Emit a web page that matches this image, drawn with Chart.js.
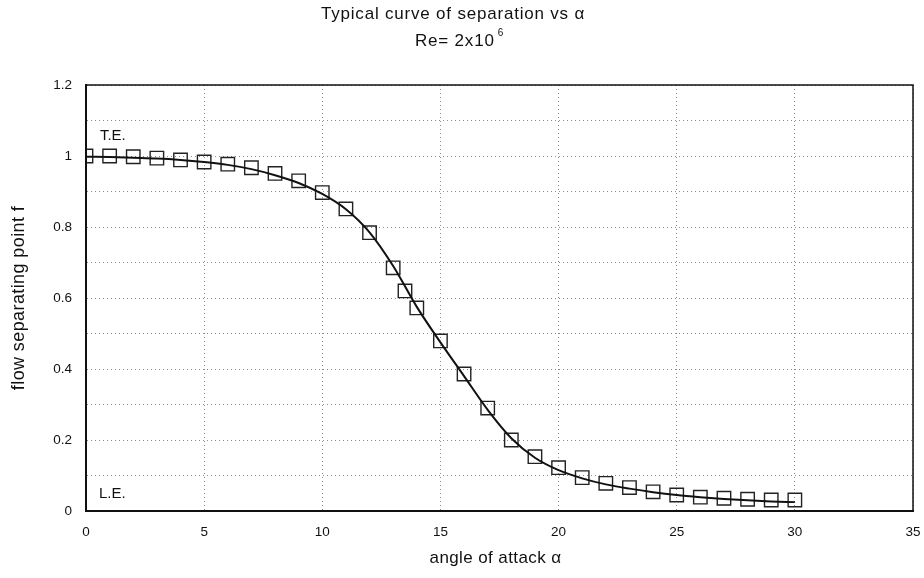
<!DOCTYPE html>
<html lang="en">
<head>
  <meta charset="UTF-8" />
  <title>Typical curve of separation vs α</title>
  <script src="https://cdn.jsdelivr.net/npm/chart.js"></script>
  <style>
    html, body { margin: 0; padding: 0; background: #fff; }
    #wrap { width: 924px; height: 578px; position: relative; }
  </style>
</head>
<body>
  <div id="wrap"><canvas id="sepChart"></canvas></div>

  <script>
    // measured points (squares)
    const alphaPoints = [0, 1, 2, 3, 4, 5, 6, 7, 8, 9, 10, 11, 12, 13, 13.5, 14, 15, 16, 17, 18, 19, 20, 21, 22, 23, 24, 25, 26, 27, 28, 29, 30];
    const fPoints = [1.0, 1.0, 0.998, 0.994, 0.989, 0.983, 0.977, 0.967, 0.951, 0.93, 0.897, 0.851, 0.784, 0.685, 0.62, 0.572, 0.479, 0.386, 0.29, 0.2, 0.153, 0.122, 0.094, 0.078, 0.066, 0.054, 0.045, 0.039, 0.036, 0.033, 0.031, 0.031];

    // fitted curve
    const alphaCurve = [0, 1, 2, 3, 4, 5, 6, 7, 8, 9, 10, 11, 12, 13, 14, 15, 16, 17, 18, 19, 20, 21, 22, 23, 24, 25, 26, 27, 28, 29, 30];
    const fCurve = [0.998, 0.997, 0.995, 0.993, 0.989, 0.983, 0.975, 0.963, 0.946, 0.924, 0.893, 0.85, 0.785, 0.69, 0.575, 0.475, 0.38, 0.285, 0.205, 0.15, 0.115, 0.092, 0.075, 0.063, 0.053, 0.045, 0.039, 0.034, 0.03, 0.027, 0.025];

    const xTicks = [0, 5, 10, 15, 20, 25, 30, 35];
    const yTicks = [0, 0.2, 0.4, 0.6, 0.8, 1, 1.2];

    const titleLine = "Typical curve of separation vs α";
    const reBase = "Re= 2x10";
    const reExp = "6";
    const xTitle = "angle of attack α";
    const yTitle = "flow separating point f";

    const FONT = "'Liberation Sans', Arial, sans-serif";

    // titles drawn by hand: superscript exponent and a bit of letter spacing like the scan
    const textPlugin = {
      id: "texts",
      afterDraw(chart) {
        const c = chart.ctx;
        const a = chart.chartArea;
        c.save();
        c.fillStyle = "#111";
        c.textBaseline = "middle";
        c.textAlign = "center";
        c.letterSpacing = "0.8px";
        c.font = "17px " + FONT;
        c.fillText(titleLine, 453, 14);

        c.textAlign = "left";
        const w = c.measureText(reBase).width;
        c.fillText(reBase, 415, 41);
        c.letterSpacing = "0px";
        c.font = "10px " + FONT;
        c.fillText(reExp, 415 + w + 3, 33);

        c.textAlign = "center";
        c.letterSpacing = "0.4px";
        c.font = "17px " + FONT;
        c.fillText(xTitle, (a.left + a.right) / 2 - 4, 558);

        c.translate(19, 298);
        c.rotate(-Math.PI / 2);
        c.font = "18px " + FONT;
        c.fillText(yTitle, 0, 0);
        c.restore();
      }
    };

    // frame round the plot area plus T.E. / L.E. notes
    const framePlugin = {
      id: "frame",
      afterDatasetsDraw(chart) {
        const { ctx, chartArea: a, scales } = chart;
        ctx.save();
        ctx.strokeStyle = "#111";
        ctx.lineWidth = 1.5;
        ctx.strokeRect(a.left, a.top, a.right - a.left, a.bottom - a.top);
        ctx.fillStyle = "#111";
        ctx.font = "15px " + FONT;
        ctx.textBaseline = "middle";
        ctx.fillText("T.E.", scales.x.getPixelForValue(0.59), scales.y.getPixelForValue(1.056));
        ctx.fillText("L.E.", scales.x.getPixelForValue(0.55), scales.y.getPixelForValue(0.048));
        ctx.restore();
      }
    };

    const gridDots = {
      color: "#8c8c8c",
      lineWidth: 1,
      drawTicks: false
    };

    new Chart(document.getElementById("sepChart"), {
      type: "scatter",
      data: {
        datasets: [
          {
            label: "curve",
            data: alphaCurve.map((a, i) => ({ x: a, y: fCurve[i] })),
            showLine: true,
            borderColor: "#111",
            borderWidth: 2,
            pointRadius: 0,
            cubicInterpolationMode: "monotone",
            fill: false
          },
          {
            label: "f",
            data: alphaPoints.map((a, i) => ({ x: a, y: fPoints[i] })),
            showLine: false,
            pointStyle: "rect",
            pointRadius: 9.5,
            pointBorderWidth: 1.4,
            pointBorderColor: "#222",
            pointBackgroundColor: "rgba(0,0,0,0)"
          }
        ]
      },
      options: {
        responsive: true,
        maintainAspectRatio: false,
        animation: false,
        layout: { autoPadding: false, padding: { top: 85, right: 11, left: 0, bottom: 0 } },
        plugins: {
          legend: { display: false },
          tooltip: { enabled: false }
        },
        scales: {
          x: {
            type: "linear",
            min: 0,
            max: 35,
            afterBuildTicks: (s) => { s.ticks = xTicks.map(v => ({ value: v })); },
            afterFit: (s) => { s.height = 67; s.paddingLeft = 0; s.paddingRight = 0; },
            ticks: { padding: 13, color: "#111", font: { family: FONT, size: 13.5 } },
            grid: gridDots,
            border: { display: true, color: "#111", width: 2, dash: [1, 3] }
          },
          y: {
            min: 0,
            max: 1.2,
            ticks: {
              stepSize: 0.1,
              padding: 14,
              color: "#111",
              font: { family: FONT, size: 13.5 },
              callback: (v) => yTicks.some(t => Math.abs(t - v) < 1e-6) ? String(Math.round(v * 10) / 10) : ""
            },
            afterFit: (s) => { s.width = 86; s.paddingTop = 0; s.paddingBottom = 0; },
            grid: gridDots,
            border: { display: true, color: "#111", width: 2, dash: [1, 3] }
          }
        }
      },
      plugins: [textPlugin, framePlugin]
    });
  </script>
</body>
</html>
